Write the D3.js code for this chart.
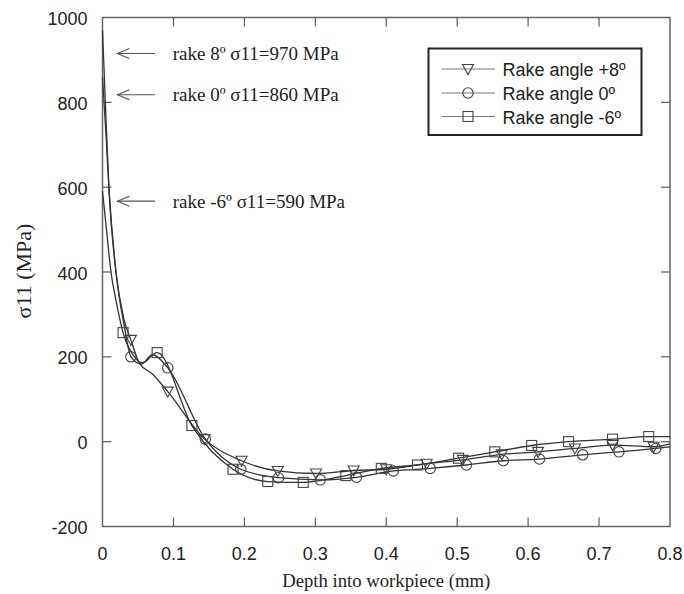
<!DOCTYPE html>
<html>
<head>
<meta charset="utf-8">
<script src="https://cdn.jsdelivr.net/npm/d3@7/dist/d3.min.js"></script>
<style>
  body { margin: 0; background: #fff; }
  .tick-label { font-family: "Liberation Sans", Arial, sans-serif; font-size: 18px; fill: #222; }
  .serif { font-family: "Liberation Serif", "Times New Roman", serif; fill: #222; }
</style>
</head>
<body>
<div id="draw"></div>
<script>
// tick values
let xTicks = [0, 0.1, 0.2, 0.3, 0.4, 0.5, 0.6, 0.7, 0.8];
let yTicks = [-200, 0, 200, 400, 600, 800, 1000];

// series names
let seriesNames = ['Rake angle +8º', 'Rake angle 0º', 'Rake angle -6º'];

// marked points [depth mm, sigma11 MPa]
let rake8Marks = [[0.040, 240], [0.092, 118], [0.144, 6], [0.196, -45], [0.247, -69], [0.301, -75], [0.354, -68],
    [0.400, -65], [0.457, -52], [0.508, -43], [0.563, -30], [0.614, -24], [0.666, -16], [0.719, -8], [0.777, -12]];
let rake0Marks = [[0.040, 200], [0.092, 174], [0.145, 6], [0.195, -65], [0.248, -85], [0.307, -90], [0.358, -84],
    [0.410, -69], [0.462, -63], [0.513, -55], [0.565, -45], [0.616, -41], [0.677, -31], [0.728, -24], [0.780, -16]];
let rakeM6Marks = [[0.029, 257], [0.077, 210], [0.126, 38], [0.184, -65], [0.233, -94], [0.283, -96], [0.343, -80],
    [0.393, -63], [0.444, -55], [0.502, -39], [0.553, -24], [0.605, -9], [0.657, 0], [0.719, 6], [0.770, 12]];

// unmarked points of the curves
let rake8Knots = [[0, 970], [0.004, 800], [0.009, 600], [0.019, 400], [0.030, 290], [0.052, 185], [0.070, 160], [0.8, -5]];
let rake0Knots = [[0, 860], [0.005, 720], [0.009, 600], [0.019, 400], [0.031, 270], [0.055, 183], [0.070, 205], [0.8, -12]];
let rakeM6Knots = [[0, 590], [0.005, 510], [0.012, 400], [0.020, 325], [0.045, 200], [0.056, 186], [0.8, 12]];

// peak annotations
let noteTexts = ['rake 8º σ11=970 MPa', 'rake 0º σ11=860 MPa', 'rake -6º σ11=590 MPa'];
let noteY = [915, 818, 567];

let width = 684,
    height = 594,
    margin = { top: 17.5, left: 102.5, bottom: 67.5, right: 14 };

let svg = d3.select('#draw')
    .append('svg')
    .attr('width', width)
    .attr('height', height);

svg.append('rect').attr('width', width).attr('height', height).attr('fill', '#fff');

let xScale = d3.scaleLinear().domain([0, 0.8]).range([margin.left, width - margin.right]),
    yScale = d3.scaleLinear().domain([-200, 1000]).range([height - margin.bottom, margin.top]);

let axisColor = '#666',
    lineColor = '#333',
    tickLen = 9;

// frame
let g = svg.append('g');
g.append('rect')
    .attr('x', xScale(0)).attr('y', yScale(1000))
    .attr('width', xScale(0.8) - xScale(0)).attr('height', yScale(-200) - yScale(1000))
    .attr('fill', 'none').attr('stroke', axisColor).attr('stroke-width', 1.5);

// inward ticks on all sides
xTicks.slice(1, -1).forEach(t => {
    g.append('line').attr('x1', xScale(t)).attr('x2', xScale(t))
        .attr('y1', yScale(-200)).attr('y2', yScale(-200) - tickLen)
        .attr('stroke', axisColor).attr('stroke-width', 1.3);
    g.append('line').attr('x1', xScale(t)).attr('x2', xScale(t))
        .attr('y1', yScale(1000)).attr('y2', yScale(1000) + tickLen)
        .attr('stroke', axisColor).attr('stroke-width', 1.3);
});
yTicks.slice(1, -1).forEach(t => {
    g.append('line').attr('x1', xScale(0)).attr('x2', xScale(0) + tickLen)
        .attr('y1', yScale(t)).attr('y2', yScale(t))
        .attr('stroke', axisColor).attr('stroke-width', 1.3);
    g.append('line').attr('x1', xScale(0.8)).attr('x2', xScale(0.8) - tickLen)
        .attr('y1', yScale(t)).attr('y2', yScale(t))
        .attr('stroke', axisColor).attr('stroke-width', 1.3);
});

// tick labels
g.selectAll('.xl').data(xTicks).enter().append('text')
    .attr('class', 'tick-label')
    .attr('x', d => xScale(d)).attr('y', yScale(-200) + 33)
    .attr('text-anchor', 'middle')
    .text(d => d);
g.selectAll('.yl').data(yTicks).enter().append('text')
    .attr('class', 'tick-label')
    .attr('x', xScale(0) - 15).attr('y', d => yScale(d) + 7.5)
    .attr('text-anchor', 'end')
    .text(d => d);

// axis titles
svg.append('text').attr('class', 'serif')
    .attr('x', (xScale(0) + xScale(0.8)) / 2).attr('y', 587)
    .attr('text-anchor', 'middle').style('font-size', '18.7px')
    .text('Depth into workpiece (mm)');
svg.append('text').attr('class', 'serif')
    .attr('transform', 'translate(31,271) rotate(-90)')
    .attr('text-anchor', 'middle').style('font-size', '22px')
    .text('σ11 (MPa)');

// curves
let line = d3.line()
    .x(d => xScale(d[0]))
    .y(d => yScale(d[1]))
    .curve(d3.curveMonotoneX);

let series = [
    { marks: rake8Marks, knots: rake8Knots, shape: 'tri' },
    { marks: rake0Marks, knots: rake0Knots, shape: 'circle' },
    { marks: rakeM6Marks, knots: rakeM6Knots, shape: 'square' }
];

series.forEach(s => {
    let pts = s.marks.concat(s.knots).sort((a, b) => a[0] - b[0]);
    g.append('path').attr('d', line(pts))
        .attr('fill', 'none').attr('stroke', lineColor).attr('stroke-width', 1.3);
});

function drawMarker(sel, shape, x, y) {
    let st = { fill: 'none', stroke: '#444', 'stroke-width': 1.1 };
    let m;
    if (shape === 'tri') {
        m = sel.append('path').attr('d', 'M' + (x - 5.5) + ',' + (y - 4.5) + 'L' + (x + 5.5) + ',' + (y - 4.5) + 'L' + x + ',' + (y + 5.5) + 'Z');
    } else if (shape === 'circle') {
        m = sel.append('circle').attr('cx', x).attr('cy', y).attr('r', 5.2);
    } else {
        m = sel.append('rect').attr('x', x - 5).attr('y', y - 5).attr('width', 10).attr('height', 10);
    }
    Object.keys(st).forEach(k => m.attr(k, st[k]));
}

series.forEach(s => {
    s.marks.forEach(d => drawMarker(g, s.shape, xScale(d[0]), yScale(d[1])));
});

// annotations with open arrows
noteTexts.forEach((t, i) => {
    let y = yScale(noteY[i]),
        x1 = xScale(0.021),
        x2 = xScale(0.074);
    g.append('line').attr('x1', x1).attr('x2', x2).attr('y1', y).attr('y2', y)
        .attr('stroke', '#555').attr('stroke-width', 1.1);
    g.append('path').attr('d', 'M' + (x1 + 12) + ',' + (y - 5) + 'L' + x1 + ',' + y + 'L' + (x1 + 12) + ',' + (y + 5))
        .attr('fill', 'none').attr('stroke', '#555').attr('stroke-width', 1.1);
    g.append('text').attr('class', 'serif')
        .attr('x', xScale(0.099)).attr('y', y + 6.5)
        .style('font-size', '19px')
        .text(t);
});

// legend
let lg = svg.append('g');
lg.append('rect').attr('x', 428.5).attr('y', 48.5).attr('width', 213).attr('height', 86.5)
    .attr('fill', '#fff').attr('stroke', '#222').attr('stroke-width', 2);
let legendRowY = [69, 93, 116.5];
series.forEach((s, i) => {
    let y = legendRowY[i];
    lg.append('line').attr('x1', 441.5).attr('x2', 495).attr('y1', y).attr('y2', y)
        .attr('stroke', '#777').attr('stroke-width', 1.2);
    drawMarker(lg, s.shape, 468, y);
    lg.append('text').attr('class', 'tick-label')
        .attr('x', 502.5).attr('y', y + 7)
        .text(seriesNames[i]);
});
</script>
</body>
</html>
